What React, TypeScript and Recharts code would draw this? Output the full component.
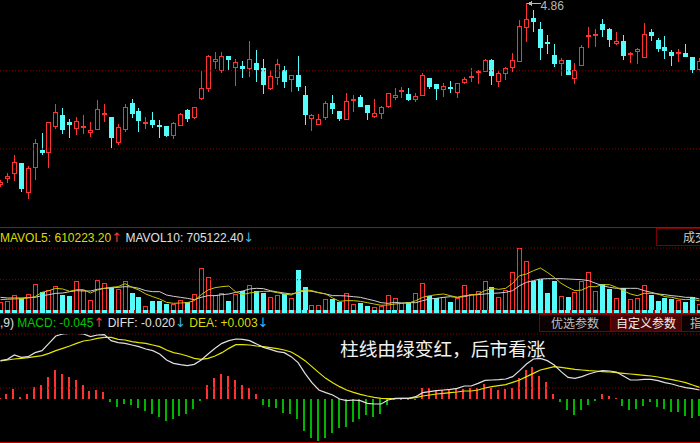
import React from "react";
import { ComposedChart, Bar, Line, XAxis, YAxis, ReferenceLine } from "recharts";

const RED = "#ff3232";
const CYAN = "#54fcfc";
const GREEN = "#00b400";
const GRID = "#8c0000";
const BORDER = "#c00000";
const FONT = '"Liberation Sans", Arial, sans-serif';
const ARROW = '"DejaVu Sans", sans-serif';
const CJK = '"Noto Sans CJK SC", "Noto Sans", sans-serif';

const CHART_W = 706;
const SHIFT = -3;

const opens = [
  4.136, 4.16, 4.18, 4.22, 4.104, 4.204, 4.272, 4.264, 4.368, 4.412,
  4.384, 4.36, 4.364, 4.344, 4.356, 4.416, 4.404, 4.304, 4.356, 4.46,
  4.428, 4.38, 4.392, 4.372, 4.368, 4.332, 4.372, 4.432, 4.404, 4.48,
  4.52, 4.628, 4.592, 4.648, 4.604, 4.608, 4.6, 4.62, 4.6, 4.52,
  4.564, 4.592, 4.556, 4.572, 4.492, 4.4, 4.376, 4.404, 4.46, 4.428,
  4.396, 4.472, 4.484, 4.452, 4.408, 4.42, 4.448, 4.484, 4.508, 4.496,
  4.476, 4.492, 4.56, 4.536, 4.516, 4.524, 4.504, 4.544, 4.564, 4.584,
  4.588, 4.632, 4.548, 4.58, 4.604, 4.628, 4.764, 4.8, 4.756, 4.704,
  4.652, 4.62, 4.632, 4.56, 4.612, 4.728, 4.732, 4.776, 4.756, 4.7,
  4.708, 4.656, 4.668, 4.644, 4.744, 4.712, 4.684, 4.664, 4.66, 4.66,
  4.644, 4.596,
];
const highs = [
  4.152, 4.18, 4.252, 4.22, 4.208, 4.316, 4.34, 4.384, 4.456, 4.44,
  4.396, 4.404, 4.412, 4.384, 4.472, 4.456, 4.404, 4.376, 4.456, 4.476,
  4.44, 4.404, 4.424, 4.392, 4.368, 4.384, 4.42, 4.436, 4.444, 4.588,
  4.652, 4.664, 4.664, 4.648, 4.636, 4.628, 4.708, 4.672, 4.636, 4.592,
  4.636, 4.608, 4.572, 4.648, 4.528, 4.416, 4.416, 4.468, 4.492, 4.428,
  4.5, 4.492, 4.492, 4.452, 4.476, 4.448, 4.5, 4.52, 4.524, 4.52,
  4.5, 4.58, 4.56, 4.536, 4.54, 4.548, 4.54, 4.564, 4.6, 4.592,
  4.636, 4.636, 4.588, 4.604, 4.66, 4.792, 4.86, 4.832, 4.784, 4.732,
  4.696, 4.64, 4.632, 4.62, 4.692, 4.764, 4.756, 4.796, 4.76, 4.744,
  4.732, 4.664, 4.68, 4.78, 4.756, 4.72, 4.728, 4.672, 4.676, 4.696,
  4.644, 4.64,
];
const lows = [
  4.128, 4.144, 4.152, 4.108, 4.08, 4.156, 4.256, 4.204, 4.36, 4.34,
  4.324, 4.336, 4.34, 4.328, 4.356, 4.388, 4.284, 4.296, 4.348, 4.404,
  4.348, 4.36, 4.364, 4.324, 4.328, 4.32, 4.372, 4.388, 4.4, 4.476,
  4.508, 4.6, 4.584, 4.596, 4.532, 4.564, 4.568, 4.548, 4.5, 4.516,
  4.536, 4.524, 4.508, 4.512, 4.376, 4.352, 4.376, 4.396, 4.42, 4.392,
  4.396, 4.428, 4.448, 4.396, 4.404, 4.4, 4.444, 4.476, 4.484, 4.472,
  4.468, 4.492, 4.52, 4.476, 4.488, 4.504, 4.484, 4.54, 4.548, 4.54,
  4.588, 4.536, 4.528, 4.556, 4.588, 4.628, 4.708, 4.748, 4.636, 4.66,
  4.608, 4.572, 4.576, 4.54, 4.612, 4.684, 4.688, 4.728, 4.688, 4.696,
  4.636, 4.624, 4.62, 4.644, 4.712, 4.668, 4.64, 4.612, 4.628, 4.648,
  4.584, 4.592,
];
const closes = [
  4.144, 4.168, 4.224, 4.12, 4.2, 4.3, 4.264, 4.384, 4.424, 4.356,
  4.376, 4.388, 4.368, 4.352, 4.436, 4.42, 4.324, 4.364, 4.444, 4.42,
  4.392, 4.384, 4.376, 4.368, 4.332, 4.38, 4.416, 4.4, 4.444, 4.52,
  4.648, 4.636, 4.648, 4.636, 4.624, 4.6, 4.636, 4.596, 4.536, 4.568,
  4.616, 4.548, 4.572, 4.528, 4.416, 4.412, 4.396, 4.46, 4.44, 4.4,
  4.468, 4.476, 4.448, 4.424, 4.42, 4.444, 4.5, 4.492, 4.512, 4.476,
  4.488, 4.572, 4.528, 4.52, 4.528, 4.52, 4.54, 4.556, 4.568, 4.588,
  4.632, 4.572, 4.58, 4.6, 4.632, 4.768, 4.796, 4.788, 4.684, 4.7,
  4.62, 4.632, 4.576, 4.592, 4.684, 4.732, 4.736, 4.756, 4.716, 4.708,
  4.652, 4.66, 4.676, 4.736, 4.732, 4.68, 4.672, 4.652, 4.664, 4.648,
  4.596, 4.628,
];
const volumes = [
  527000, 618000, 945000, 745000, 1000000, 1545000, 1109000, 1182000, 1436000, 927000,
  873000, 1709000, 1218000, 673000, 1764000, 1600000, 1382000, 1236000, 1709000, 1018000,
  818000, 309000, 582000, 582000, 436000, 436000, 655000, 527000, 1000000, 2400000,
  1927000, 927000, 1036000, 582000, 982000, 1164000, 1455000, 1164000, 1036000, 800000,
  927000, 982000, 764000, 2273000, 1382000, 364000, 364000, 709000, 727000, 527000,
  1018000, 436000, 509000, 327000, 273000, 345000, 909000, 745000, 473000, 527000,
  1018000, 1564000, 873000, 745000, 836000, 545000, 745000, 1455000, 982000, 1164000,
  1673000, 1345000, 800000, 1200000, 2182000, 3491000, 2800000, 1673000, 1800000, 1018000,
  1709000, 891000, 800000, 1109000, 1673000, 2182000, 1127000, 1527000, 1236000, 745000,
  1291000, 691000, 764000, 1491000, 927000, 582000, 764000, 709000, 673000, 545000,
  800000, 436000,
];
const mavol5 = [
  673000, 691000, 709000, 727000, 764000, 836000, 1073000, 1164000, 1291000, 1254000,
  1127000, 1218000, 1218000, 1036000, 1200000, 1291000, 1345000, 1382000, 1545000, 1345000,
  1200000, 982000, 836000, 709000, 527000, 473000, 491000, 509000, 618000, 945000,
  1200000, 1327000, 1382000, 1418000, 1091000, 950000, 1036000, 1091000, 1127000, 1127000,
  1054000, 982000, 927000, 1109000, 1218000, 1164000, 1054000, 982000, 764000, 582000,
  618000, 618000, 582000, 509000, 436000, 364000, 382000, 436000, 473000, 491000,
  618000, 800000, 891000, 945000, 982000, 891000, 800000, 891000, 927000, 982000,
  1164000, 1291000, 1236000, 1291000, 1564000, 1982000, 2073000, 2254000, 2400000, 2163000,
  1891000, 1564000, 1345000, 1164000, 1200000, 1382000, 1382000, 1491000, 1491000, 1345000,
  1164000, 982000, 891000, 1018000, 1018000, 982000, 836000, 800000, 709000, 673000,
  691000, 610223.2,
];
const mavol10 = [
  800000, 764000, 764000, 764000, 782000, 800000, 891000, 945000, 1018000, 1036000,
  1109000, 1164000, 1145000, 1145000, 1236000, 1291000, 1309000, 1345000, 1382000, 1364000,
  1291000, 1164000, 1109000, 1109000, 927000, 854000, 800000, 745000, 673000, 800000,
  891000, 891000, 945000, 982000, 1073000, 1145000, 1254000, 1291000, 1273000, 1164000,
  1091000, 1036000, 982000, 1054000, 1164000, 1127000, 1054000, 982000, 891000, 891000,
  873000, 836000, 800000, 709000, 618000, 509000, 473000, 527000, 491000, 509000,
  509000, 618000, 709000, 745000, 800000, 836000, 800000, 836000, 927000, 945000,
  982000, 1018000, 1036000, 1073000, 1164000, 1436000, 1618000, 1709000, 1800000, 1818000,
  1818000, 1818000, 1800000, 1782000, 1763000, 1709000, 1564000, 1436000, 1345000, 1291000,
  1291000, 1291000, 1291000, 1164000, 1073000, 982000, 945000, 891000, 854000, 800000,
  800000, 705122.4,
];
const diffLine = [
  0.0777, 0.0803, 0.089, 0.0843, 0.0857, 0.0937, 0.0977, 0.1123, 0.127, 0.131,
  0.1323, 0.1323, 0.131, 0.1257, 0.129, 0.1297, 0.1177, 0.1137, 0.1123, 0.109,
  0.1057, 0.101, 0.0977, 0.091, 0.079, 0.0723, 0.0697, 0.0677, 0.0703, 0.079,
  0.091, 0.1023, 0.1123, 0.1177, 0.121, 0.1203, 0.1177, 0.111, 0.1043, 0.1003,
  0.0957, 0.0937, 0.0857, 0.0737, 0.0523, 0.0337, 0.019, 0.0137, 0.009, 0.001,
  -0.0023, -0.001, -0.0023, -0.0077, -0.009, -0.009, -0.001, 0.0023, 0.0023, 0.0023,
  0.0057, 0.0137, 0.0157, 0.0177, 0.019, 0.0203, 0.0223, 0.027, 0.027, 0.0323,
  0.0383, 0.039, 0.0397, 0.041, 0.0457, 0.0577, 0.071, 0.081, 0.0823, 0.0777,
  0.069, 0.0557, 0.0443, 0.0423, 0.0457, 0.051, 0.055, 0.0577, 0.057, 0.055,
  0.047, 0.039, 0.039, 0.0403, 0.0403, 0.0377, 0.0337, 0.031, 0.027, 0.0237,
  0.0217, 0.019,
];
const deaLine = [
  0.077, 0.079, 0.081, 0.0823, 0.0837, 0.0857, 0.0877, 0.0923, 0.0977, 0.1023,
  0.107, 0.1123, 0.117, 0.119, 0.1223, 0.1243, 0.1243, 0.1203, 0.119, 0.1157,
  0.1137, 0.1123, 0.109, 0.1057, 0.099, 0.0937, 0.091, 0.087, 0.0823, 0.0803,
  0.0823, 0.087, 0.0937, 0.1023, 0.1097, 0.1097, 0.109, 0.107, 0.1057, 0.1037,
  0.1017, 0.099, 0.095, 0.087, 0.0777, 0.0657, 0.0537, 0.0423, 0.0337, 0.0257,
  0.019, 0.0143, 0.0103, 0.007, 0.0043, 0.0023, 0.0017, 0.0017, 0.0023, 0.0023,
  0.0037, 0.007, 0.009, 0.011, 0.0123, 0.0137, 0.015, 0.017, 0.017, 0.019,
  0.023, 0.0257, 0.0277, 0.0297, 0.0343, 0.039, 0.0457, 0.0523, 0.059, 0.0623,
  0.0657, 0.0643, 0.0623, 0.0603, 0.059, 0.0577, 0.057, 0.0557, 0.055, 0.0537,
  0.0523, 0.051, 0.0497, 0.0483, 0.047, 0.045, 0.0423, 0.0397, 0.037, 0.0337,
  0.029, 0.0243,
];
const macdBar = [
  0.004, 0.0135, 0.027, 0.008, 0.0135, 0.034, 0.038, 0.061, 0.08, 0.07,
  0.062, 0.054, 0.0405, 0.022, 0.025, 0.02, -0.008, -0.021, -0.011, -0.014,
  -0.024, -0.032, -0.0405, -0.047, -0.059, -0.054, -0.045, -0.04, -0.027, -0.005,
  0.038, 0.057, 0.068, 0.064, 0.054, 0.0405, 0.032, 0.014, -0.014, -0.02,
  -0.024, -0.036, -0.0405, -0.054, -0.086, -0.103, -0.111, -0.103, -0.09, -0.076,
  -0.075, -0.062, -0.052, -0.043, -0.047, -0.038, -0.016, -0.001, 0.001, -0.001,
  0.001, 0.032, 0.03, 0.025, 0.025, 0.027, 0.032, 0.027, 0.03, 0.032,
  0.041, 0.032, 0.025, 0.029, 0.03, 0.057, 0.079, 0.088, 0.064, 0.048,
  0.014, -0.006, -0.029, -0.042, -0.029, -0.015, -0.003, 0.0135, 0.01, 0.005,
  -0.018, -0.029, -0.027, -0.018, -0.006, -0.02, -0.027, -0.033, -0.033, -0.045,
  -0.049, -0.045,
];

const priceGrid = [4.589, 4.276];
const volGrid = [3490000, 1760000];
const macdGrid = [0.131, 0.023];
const macdHeader = { prefix: ",9)", macd: "MACD: -0.045", diff: " DIFF: -0.020", dea: " DEA: +0.003" };
const buttons = ["优选参数", "自定义参数", "指标"];
const note = "柱线由绿变红，后市看涨";

const rows = opens.map((o, i) => ({
  i,
  o,
  h: highs[i],
  l: lows[i],
  c: closes[i],
  vol: volumes[i],
  ma5: mavol5[i],
  ma10: mavol10[i],
  diff: diffLine[i],
  dea: deaLine[i],
  macd: macdBar[i],
}));
const maxHigh = Math.max(...highs);

const Candle = (props: any) => {
  const { x, y, width, height, payload } = props;
  if (x == null || y == null || !payload) return null;
  const { o, h, l, c } = payload;
  const span = h - l;
  const py = (p: number) => (span > 0 ? y + ((h - p) / span) * height : y);
  const cx = Math.floor(x + width / 2) + 0.5;
  const yH = Math.round(py(h));
  const yL = Math.round(py(l));
  const top = Math.round(py(Math.max(o, c)));
  const bot = Math.round(py(Math.min(o, c)));
  const up = c >= o;
  const color = up ? RED : CYAN;
  const label =
    h === maxHigh ? (
      <g>
        <line x1={cx + 4} y1={yH + 0.5} x2={cx + 14} y2={yH + 0.5} stroke="#b8b8b8" />
        <path d={`M${cx + 0.5},${yH + 0.5} l5,-2.5 l0,5 z`} fill="#b8b8b8" />
        <text x={cx + 14} y={yH + 7} fill="#b8b8b8" fontSize={12} fontFamily={FONT}>
          {h.toFixed(2)}
        </text>
      </g>
    ) : null;
  if (bot - top < 1) {
    return (
      <g shapeRendering="crispEdges">
        <line x1={cx} x2={cx} y1={yH} y2={yL + 1} stroke={color} />
        <line x1={cx - 2.5} x2={cx + 2.5} y1={top + 0.5} y2={top + 0.5} stroke={color} />
        {label}
      </g>
    );
  }
  if (up) {
    return (
      <g shapeRendering="crispEdges">
        <line x1={cx} x2={cx} y1={yH} y2={top} stroke={color} />
        <line x1={cx} x2={cx} y1={bot + 1} y2={yL + 1} stroke={color} />
        <rect x={cx - 2} y={top + 0.5} width={4} height={bot - top} fill="#000" stroke={color} />
        {label}
      </g>
    );
  }
  return (
    <g shapeRendering="crispEdges">
      <line x1={cx} x2={cx} y1={yH} y2={yL + 1} stroke={color} />
      <rect x={cx - 2.5} y={top} width={5} height={bot - top + 1} fill={color} />
      {label}
    </g>
  );
};

const VolBar = (props: any) => {
  const { x, y, width, height, payload } = props;
  if (x == null || y == null || !payload) return null;
  const cx = Math.floor(x + width / 2) + 0.5;
  const top = Math.round(y);
  const bot = Math.round(y + height);
  const up = payload.c >= payload.o;
  if (up) {
    return (
      <rect
        shapeRendering="crispEdges"
        x={cx - 2}
        y={top + 0.5}
        width={4}
        height={Math.max(bot - top - 1, 0)}
        fill="#000"
        stroke={RED}
      />
    );
  }
  return <rect shapeRendering="crispEdges" x={cx - 2.5} y={top} width={5} height={bot - top} fill={CYAN} />;
};

const MacdBar = (props: any) => {
  const { x, y, width, height, payload } = props;
  if (x == null || y == null || !payload) return null;
  const cx = Math.floor(x + width / 2);
  const y1 = Math.min(y, y + height);
  const h = Math.abs(height);
  return (
    <rect
      shapeRendering="crispEdges"
      x={cx - 1}
      y={y1}
      width={2}
      height={Math.max(h, 0.6)}
      fill={payload.macd >= 0 ? RED : GREEN}
    />
  );
};

const abs = (style: React.CSSProperties): React.CSSProperties => ({ position: "absolute", ...style });
const arrowStyle = (color: string): React.CSSProperties => ({ color, fontFamily: ARROW, fontSize: 13 });

export default function App() {
  const btnBase: React.CSSProperties = {
    position: "absolute",
    top: 314,
    height: 18,
    boxSizing: "border-box",
    border: "1px solid #7a0000",
    font: `12px ${CJK}`,
    lineHeight: "16px",
    textAlign: "center",
    overflow: "hidden",
    whiteSpace: "nowrap",
  };
  return (
    <div style={{ position: "fixed", left: 0, top: 0, width: 700, height: 443, background: "#000", overflow: "hidden" }}>
      {/* Candles */}
      <div style={abs({ left: SHIFT, top: 0 })}>
        <ComposedChart width={CHART_W} height={227} data={rows} margin={{ top: 0, right: 0, bottom: 0, left: 0 }}>
          <XAxis dataKey="i" hide />
          <YAxis hide domain={[3.964, 4.872]} allowDataOverflow />
          {priceGrid.map((v) => (
            <ReferenceLine key={v} y={v} stroke={GRID} strokeDasharray="1 2" />
          ))}
          <Bar dataKey={(d: any) => [d.l, d.h]} barSize={5} shape={Candle} isAnimationActive={false} />
        </ComposedChart>
      </div>
      <div style={abs({ left: 0, top: 227, width: 700, height: 1, background: BORDER })} />

      {/* Volume */}
      <div style={abs({ left: SHIFT, top: 228 })}>
        <ComposedChart width={CHART_W} height={84} data={rows} margin={{ top: 18, right: 0, bottom: 0, left: 0 }}>
          <XAxis dataKey="i" hide />
          <YAxis hide domain={[0, 3600000]} allowDataOverflow />
          {volGrid.map((v) => (
            <ReferenceLine key={v} y={v} stroke={GRID} strokeDasharray="1 2" />
          ))}
          <Bar dataKey="vol" barSize={5} shape={VolBar} isAnimationActive={false} />
          <Line dataKey="ma10" stroke="#d0d0d0" strokeWidth={1} dot={false} isAnimationActive={false} />
          <Line dataKey="ma5" stroke="#c8c800" strokeWidth={1} dot={false} isAnimationActive={false} />
        </ComposedChart>
      </div>
      <div
        style={abs({
          left: 0,
          top: 310,
          width: 700,
          height: 3,
          background: `repeating-linear-gradient(90deg, ${CYAN} 0px, ${CYAN} 5px, ${BORDER} 5px, ${BORDER} 6.92px)`,
          backgroundPosition: "-2px 0",
        })}
      />
      <div style={abs({ left: 0, top: 313, width: 700, height: 1, background: BORDER })} />
      <div style={abs({ left: 0, top: 231, font: `12px ${FONT}`, lineHeight: "14px", whiteSpace: "pre" })}>
        <span style={{ color: "#dcdc00" }}>MAVOL5: {mavol5[mavol5.length - 1].toFixed(2)}</span>
        <span style={arrowStyle(RED)}>↑</span>
        <span style={{ color: "#e0e0e0" }}> MAVOL10: {mavol10[mavol10.length - 1].toFixed(2)}</span>
        <span style={arrowStyle("#3cb4e6")}>↓</span>
      </div>
      <div
        style={abs({
          left: 656,
          top: 228,
          width: 60,
          height: 18,
          boxSizing: "border-box",
          border: "1px solid #7a0000",
          font: `12px ${CJK}`,
          lineHeight: "16px",
          color: "#c8c8c8",
          paddingLeft: 26,
          whiteSpace: "nowrap",
        })}
      >
        成交量
      </div>

      {/* MACD */}
      <div style={abs({ left: SHIFT, top: 314 })}>
        <ComposedChart width={CHART_W} height={128} data={rows} margin={{ top: 20, right: 0, bottom: 0, left: 0 }}>
          <XAxis dataKey="i" hide />
          <YAxis yAxisId="L" hide domain={[-0.085, 0.131]} allowDataOverflow />
          <YAxis yAxisId="H" hide domain={[-0.1148, 0.1769]} allowDataOverflow />
          {macdGrid.map((v) => (
            <ReferenceLine key={v} yAxisId="L" y={v} stroke={GRID} strokeDasharray="1 2" />
          ))}
          <Bar yAxisId="H" dataKey="macd" barSize={2} shape={MacdBar} isAnimationActive={false} />
          <Line yAxisId="L" dataKey="dea" stroke="#e6e600" strokeWidth={1.2} dot={false} isAnimationActive={false} />
          <Line yAxisId="L" dataKey="diff" stroke="#e0e0e0" strokeWidth={1.2} dot={false} isAnimationActive={false} />
        </ComposedChart>
      </div>
      <div style={abs({ left: 0, top: 442, width: 700, height: 1, background: BORDER })} />
      <div style={abs({ left: 0, top: 316, font: `12px ${FONT}`, lineHeight: "14px", whiteSpace: "pre" })}>
        <span style={{ color: "#e0e0e0" }}>{macdHeader.prefix} </span>
        <span style={{ color: "#00c800" }}>{macdHeader.macd}</span>
        <span style={arrowStyle(RED)}>↑</span>
        <span style={{ color: "#e0e0e0" }}>{macdHeader.diff}</span>
        <span style={arrowStyle("#3cb4e6")}>↓</span>
        <span style={{ color: "#dcdc00" }}>{macdHeader.dea}</span>
        <span style={arrowStyle("#3cb4e6")}>↓</span>
      </div>
      <div style={{ ...btnBase, left: 539, width: 72, background: "#0c0000", color: "#c0c0c0" }}>{buttons[0]}</div>
      <div style={{ ...btnBase, left: 610, width: 72, background: "#4a0606", color: "#f0f0f0" }}>{buttons[1]}</div>
      <div style={{ ...btnBase, left: 681, width: 40, background: "#0c0000", color: "#c0c0c0", textAlign: "left", paddingLeft: 8 }}>
        {buttons[2]}
      </div>
      <div style={abs({ left: 340, top: 338, font: `18.7px ${CJK}`, lineHeight: "19px", color: "#f2f2f2", whiteSpace: "nowrap" })}>
        {note}
      </div>
    </div>
  );
}
